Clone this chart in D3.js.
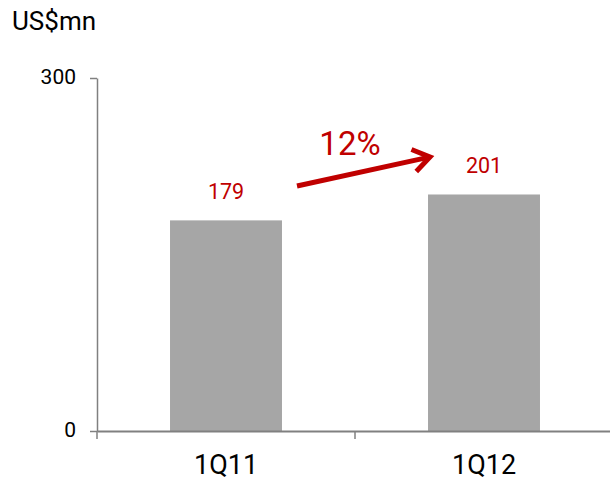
<!DOCTYPE html>
<html><head><meta charset="utf-8">
<script src="https://cdn.jsdelivr.net/npm/d3@7"></script>
<style>body{margin:0;background:#fff}svg{display:block}</style>
</head><body>
<svg id="c" width="610" height="480"></svg>
<script>
const categories = ["1Q11", "1Q12"];
const values = [179, 201];
const yTicks = [0, 300];
const growthLabel = "12%";
const unitLabel = "US$mn";

const svg = d3.select("#c");
const font = "Roboto, 'Open Sans', sans-serif";
const axisColor = "#808080";
const red = "#c00000";

const x = d3.scaleBand().domain(categories).range([97, 613]).paddingInner(0).paddingOuter(0);
const y = d3.scaleLinear().domain([0, 300]).range([431, 78]);
const barW = x.bandwidth() * 0.434;

// bars
svg.selectAll("rect.bar").data(values).join("rect")
  .attr("class", "bar")
  .attr("x", (d, i) => x(categories[i]) + x.bandwidth() / 2 - barW / 2)
  .attr("y", d => y(d))
  .attr("width", barW)
  .attr("height", d => y(0) - y(d))
  .attr("fill", "#a6a6a6");

// value labels
svg.selectAll("text.val").data(values).join("text")
  .attr("class", "val")
  .attr("x", (d, i) => x(categories[i]) + x.bandwidth() / 2)
  .attr("y", d => y(d) - 21)
  .attr("text-anchor", "middle")
  .attr("font-family", font).attr("font-size", 21.5)
  .attr("fill", red).text(d => d);

// y axis
const yAxis = svg.append("g").attr("transform", "translate(97,0)")
  .call(d3.axisLeft(y).tickValues(yTicks).tickSize(7).tickPadding(14).tickSizeOuter(0));
yAxis.select(".domain").attr("stroke", axisColor).attr("stroke-width", 1.5);
yAxis.selectAll(".tick line").attr("stroke", axisColor).attr("stroke-width", 1.5);
yAxis.selectAll(".tick text").attr("dy", null).attr("y", 5)
  .attr("font-family", font).attr("font-size", 21).attr("fill", "#000");

// x axis
const xAxis = svg.append("g").attr("transform", `translate(0,${y(0)})`)
  .call(d3.axisBottom(x).tickSize(0));
xAxis.select(".domain").attr("stroke", axisColor).attr("stroke-width", 2);
xAxis.selectAll(".tick text").attr("dy", null).attr("y", 43)
  .attr("font-family", font).attr("font-size", 27).attr("fill", "#000");
// category separators
const seps = [97, x(categories[1])];
svg.selectAll("line.sep").data(seps).join("line")
  .attr("class", "sep")
  .attr("x1", d => d).attr("x2", d => d)
  .attr("y1", y(0)).attr("y2", y(0) + 8)
  .attr("stroke", axisColor).attr("stroke-width", 1.5);

// unit label
svg.append("text").attr("x", 12).attr("y", 30)
  .attr("font-family", font).attr("font-size", 26).attr("fill", "#000").text(unitLabel);

// growth arrow
const a0 = [297, 186], a1 = [430, 157];
svg.append("line").attr("x1", a0[0]).attr("y1", a0[1]).attr("x2", a1[0] - 3).attr("y2", a1[1] + 0.6)
  .attr("stroke", red).attr("stroke-width", 5);
const ang = Math.atan2(a1[1] - a0[1], a1[0] - a0[0]);
const hl = 20, hw = 0.6;
const p1 = [a1[0] - hl * Math.cos(ang - hw), a1[1] - hl * Math.sin(ang - hw)];
const p2 = [a1[0] - hl * Math.cos(ang + hw), a1[1] - hl * Math.sin(ang + hw)];
svg.append("path").attr("d", `M${p1}L${a1}L${p2}`)
  .attr("fill", "none").attr("stroke", red).attr("stroke-width", 5)
  .attr("stroke-linejoin", "miter").attr("stroke-linecap", "butt");
svg.append("text").attr("x", 350).attr("y", 155).attr("text-anchor", "middle")
  .attr("font-family", font).attr("font-size", 33).attr("fill", red).text(growthLabel);
</script>
</body></html>
